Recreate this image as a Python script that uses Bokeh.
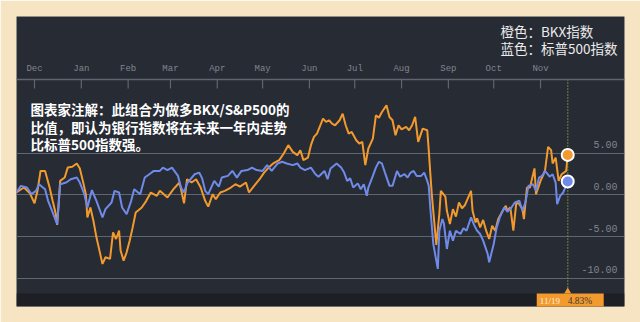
import pandas as pd
from bokeh.plotting import figure
from bokeh.models import Range1d, Grid, FixedTicker, Span, BoxAnnotation
from bokeh.embed import file_html
from bokeh.resources import INLINE
from bokeh.core.properties import value

# ---------------- data ----------------
month_dates = ["2014-12-01", "2015-01-01", "2015-02-01", "2015-03-01", "2015-04-01", "2015-05-01",
               "2015-06-01", "2015-07-01", "2015-08-01", "2015-09-01", "2015-10-01", "2015-11-01"]
month_labels = ["Dec", "Jan", "Feb", "Mar", "Apr", "May", "Jun", "Jul", "Aug", "Sep", "Oct", "Nov"]

y_ticks = [5, 0, -5, -10]
y_tick_labels = ["5.00", "0.00", "-5.00", "-10.00"]

bkx_dates = [
    "2014-11-19", "2014-11-24", "2014-11-28", "2014-12-01", "2014-12-03", "2014-12-05", "2014-12-08",
    "2014-12-11", "2014-12-13", "2014-12-15", "2014-12-16", "2014-12-18", "2014-12-21", "2014-12-23",
    "2014-12-26", "2014-12-29", "2014-12-31", "2015-01-02", "2015-01-04", "2015-01-05", "2015-01-07",
    "2015-01-09", "2015-01-11", "2015-01-13", "2015-01-15", "2015-01-17", "2015-01-20", "2015-01-22",
    "2015-01-24", "2015-01-26", "2015-01-27", "2015-01-29", "2015-01-31", "2015-02-02", "2015-02-04",
    "2015-02-06", "2015-02-10", "2015-02-13", "2015-02-16", "2015-02-20", "2015-02-22", "2015-02-27",
    "2015-03-03", "2015-03-07", "2015-03-10", "2015-03-12", "2015-03-15", "2015-03-18", "2015-03-21",
    "2015-03-24", "2015-03-26", "2015-03-29", "2015-03-31", "2015-04-03", "2015-04-06", "2015-04-10",
    "2015-04-13", "2015-04-16", "2015-04-20", "2015-04-22", "2015-04-25", "2015-04-29", "2015-05-02",
    "2015-05-05", "2015-05-08", "2015-05-12", "2015-05-15", "2015-05-18", "2015-05-21", "2015-05-24",
    "2015-05-26", "2015-05-28", "2015-05-31", "2015-06-02", "2015-06-04", "2015-06-06", "2015-06-10",
    "2015-06-12", "2015-06-14", "2015-06-16", "2015-06-18", "2015-06-21", "2015-06-23", "2015-06-25",
    "2015-06-27", "2015-06-29", "2015-07-02", "2015-07-04", "2015-07-06", "2015-07-08", "2015-07-10",
    "2015-07-13", "2015-07-15", "2015-07-17", "2015-07-19", "2015-07-22", "2015-07-24", "2015-07-26",
    "2015-07-28", "2015-07-30", "2015-08-01", "2015-08-04", "2015-08-06", "2015-08-08", "2015-08-10",
    "2015-08-12", "2015-08-15", "2015-08-18", "2015-08-19", "2015-08-20", "2015-08-21", "2015-08-24",
    "2015-08-26", "2015-08-27", "2015-08-30", "2015-08-31", "2015-09-02", "2015-09-04", "2015-09-06",
    "2015-09-08", "2015-09-10", "2015-09-12", "2015-09-16", "2015-09-17", "2015-09-19", "2015-09-20",
    "2015-09-22", "2015-09-24", "2015-09-26", "2015-09-28", "2015-09-30", "2015-10-02", "2015-10-04",
    "2015-10-07", "2015-10-09", "2015-10-10", "2015-10-12", "2015-10-14", "2015-10-16", "2015-10-18",
    "2015-10-20", "2015-10-21", "2015-10-23", "2015-10-25", "2015-10-28", "2015-10-29", "2015-11-01",
    "2015-11-03", "2015-11-04", "2015-11-06", "2015-11-08", "2015-11-09", "2015-11-11", "2015-11-13",
    "2015-11-15", "2015-11-18", "2015-11-19"]
bkx_values = [
    0.3, 0.9, 0.2, -1.0, 0.5, 2.9, 2.9,
    0.9, -0.7, -2.2, -3.6, 1.7, 2.1, 3.3,
    3.4, 3.8, 3.2, 1.7, 0.1, -2.7, -1.5,
    -3.1, -5.1, -6.7, -8.3, -7.5, -7.7, -4.5,
    -5.3, -4.3, -6.7, -7.9, -6.9, -5.5, -3.9,
    -2.1, -1.5, -0.7, 0.3, -0.1, 0.5, -0.3,
    0.7, 1.5, -1.0, 1.9, 1.5, 1.9, 0.9,
    -0.7, -1.4, 0.1, -0.5, 0.3, 0.5, 0.9,
    1.3, 1.0, 1.5, 0.3, 1.0, 1.9, 2.7,
    3.3, 3.8, 4.2, 5.0, 6.0, 5.2, 4.8,
    5.4, 4.2, 4.5, 6.0, 7.0, 7.4, 9.2,
    8.8, 9.0, 8.6, 8.4, 9.0, 9.8, 8.4,
    7.4, 7.6, 6.6, 6.2, 6.4, 3.6, 5.6,
    6.8, 9.6, 9.3, 10.0, 10.8, 9.4, 9.0,
    7.2, 8.4, 7.9, 8.2, 7.8, 8.4, 9.4,
    6.4, 8.0, 7.8, 5.4, 2.7, 0.1, -6.0,
    -2.3, 0.5, -0.2, -1.9, -3.5, -1.7, -2.6,
    -0.9, -1.6, -1.2, 0.5, -1.9, -3.3, -2.8,
    -3.9, -3.0, -4.3, -5.3, -3.7, -4.3, -2.9,
    -1.9, -1.3, -1.9, -1.5, -4.3, -0.9, -1.1,
    -1.7, -2.9, 0.9, 0.9, 3.2, 0.1, 1.7,
    2.5, 3.0, 5.8, 5.4, 3.8, 4.5, 1.7,
    2.5, 2.9, 4.83]

spx_dates = [
    "2014-11-19", "2014-11-22", "2014-11-26", "2014-11-29", "2014-12-02", "2014-12-04", "2014-12-08",
    "2014-12-10", "2014-12-13", "2014-12-16", "2014-12-18", "2014-12-22", "2014-12-25", "2014-12-29",
    "2014-12-31", "2015-01-03", "2015-01-05", "2015-01-08", "2015-01-11", "2015-01-13", "2015-01-15",
    "2015-01-17", "2015-01-21", "2015-01-23", "2015-01-26", "2015-01-28", "2015-01-31", "2015-02-03",
    "2015-02-05", "2015-02-09", "2015-02-12", "2015-02-15", "2015-02-18", "2015-02-22", "2015-02-24",
    "2015-02-27", "2015-03-02", "2015-03-06", "2015-03-08", "2015-03-10", "2015-03-12", "2015-03-17",
    "2015-03-20", "2015-03-22", "2015-03-24", "2015-03-26", "2015-03-30", "2015-04-02", "2015-04-04",
    "2015-04-08", "2015-04-11", "2015-04-14", "2015-04-17", "2015-04-21", "2015-04-24", "2015-04-27",
    "2015-05-01", "2015-05-04", "2015-05-07", "2015-05-11", "2015-05-14", "2015-05-17", "2015-05-21",
    "2015-05-24", "2015-05-26", "2015-05-29", "2015-06-02", "2015-06-05", "2015-06-07", "2015-06-11",
    "2015-06-13", "2015-06-15", "2015-06-17", "2015-06-19", "2015-06-22", "2015-06-24", "2015-06-26",
    "2015-06-28", "2015-06-30", "2015-07-03", "2015-07-05", "2015-07-07", "2015-07-09", "2015-07-10",
    "2015-07-13", "2015-07-15", "2015-07-17", "2015-07-19", "2015-07-21", "2015-07-24", "2015-07-26",
    "2015-07-29", "2015-07-31", "2015-08-03", "2015-08-05", "2015-08-07", "2015-08-09", "2015-08-11",
    "2015-08-14", "2015-08-16", "2015-08-18", "2015-08-19", "2015-08-20", "2015-08-22", "2015-08-25",
    "2015-08-26", "2015-08-28", "2015-08-29", "2015-08-31", "2015-09-02", "2015-09-04", "2015-09-06",
    "2015-09-09", "2015-09-11", "2015-09-13", "2015-09-16", "2015-09-18", "2015-09-20", "2015-09-22",
    "2015-09-24", "2015-09-27", "2015-09-28", "2015-10-01", "2015-10-03", "2015-10-05", "2015-10-08",
    "2015-10-10", "2015-10-12", "2015-10-15", "2015-10-18", "2015-10-20", "2015-10-22", "2015-10-24",
    "2015-10-27", "2015-10-29", "2015-10-31", "2015-11-02", "2015-11-04", "2015-11-07", "2015-11-09",
    "2015-11-11", "2015-11-12", "2015-11-14", "2015-11-16", "2015-11-19"]
spx_values = [
    0.3, 1.1, 0.9, 0.1, 0.5, 1.3, 0.7,
    -0.7, -2.1, -3.5, 1.3, 1.5, 1.9, 2.1,
    1.5, 0.1, -1.5, 0.6, -0.7, -1.7, -2.7,
    -1.7, -0.9, 0.5, 0.3, -1.5, -2.3, -0.7,
    0.7, 0.1, 2.1, 2.5, 2.9, 2.9, 3.3,
    3.0, 3.3, 2.3, 0.9, 0.3, 1.4, 2.5,
    2.7, 2.0, 0.5, 0.1, 1.7, 1.0, 2.1,
    2.3, 2.9, 2.1, 2.9, 3.0, 3.3, 3.0,
    2.9, 3.6, 2.9, 3.8, 4.0, 3.8, 3.6,
    3.8, 3.3, 3.0, 3.3, 2.5, 2.2, 2.9,
    1.9, 3.2, 3.5, 3.8, 3.3, 2.7, 1.7,
    2.0, 0.9, 1.4, 0.7, 1.3, -0.1, 0.9,
    2.3, 3.3, 4.0, 3.8, 2.7, 1.1, 1.1,
    2.9, 2.2, 2.5, 2.1, 2.7, 2.9, 2.3,
    2.3, 2.7, 1.7, 1.1, -1.5, -5.9, -8.9,
    -4.3, -2.9, -3.4, -6.5, -4.3, -5.5, -4.3,
    -4.7, -4.0, -4.3, -2.7, -3.6, -4.3, -4.7,
    -5.5, -7.1, -8.1, -5.9, -3.9, -2.7, -1.5,
    -2.0, -1.7, -0.9, -0.7, -1.9, -0.9, 1.1,
    1.3, 0.5, 2.1, 2.3, 2.9, 2.2, 2.5,
    1.5, -1.1, -0.1, 0.3, 1.63]

end_date_label = "11/19"
end_value_label = "4.83%"
legend_lines = ["橙色：BKX指数", "蓝色：标普500指数"]
note_lines = ["图表家注解：此组合为做多BKX/S&P500的",
              "比值，即认为银行指数将在未来一年内走势",
              "比标普500指数强。"]

# ---------------- layout helpers ----------------
ORANGE = "#f29a2e"
BLUE = "#6f8ae8"
PANEL = "#272b34"
GRIDC = "#5f6571"
LABELC = "#80858f"

FL, FT, FW, FH = 16, 16, 608, 290


def ms(s):
    return pd.Timestamp(s).value / 1e6


X0 = ms("2014-11-19 02:00")
X1 = ms("2015-12-26 14:00")
Y0, Y1 = -13.43, 21.5


def xpx(px):
    return X0 + (px - FL) * (X1 - X0) / FW


def ypx(py):
    return Y1 - (py - FT) * (Y1 - Y0) / FH


MS_PER_PX = (X1 - X0) / FW

p = figure(frame_width=FW, frame_height=FH, min_border=16,
           min_border_left=16, min_border_right=16, min_border_top=16, min_border_bottom=16,
           x_axis_location=None, y_axis_location=None,
           x_range=Range1d(X0, X1), y_range=Range1d(Y0, Y1),
           output_backend="svg", toolbar_location=None)
p.background_fill_color = PANEL
p.border_fill_color = "#f6e4c2"
p.outline_line_color = None
p.grid.visible = False

p.add_layout(Grid(dimension=1, ticker=FixedTicker(ticks=y_ticks),
                  grid_line_color=GRIDC, grid_line_width=1.2))

# bottom dark strip
p.add_layout(BoxAnnotation(top=ypx(293), fill_color="#1d1f24", fill_alpha=1.0,
                           line_color=None, level="underlay"))

# time axis inside panel
month_ms = [ms(d) for d in month_dates]
p.add_layout(Span(location=ypx(79), dimension="width", line_color=GRIDC, line_width=1.5))
p.segment(x0=month_ms, y0=[ypx(79)] * len(month_ms), x1=month_ms, y1=[ypx(88)] * len(month_ms),
          line_color=GRIDC, line_width=1.2)
p.text(x=month_ms, y=[ypx(68)] * len(month_ms), text=month_labels,
       text_align="center", text_baseline="middle",
       text_font=value("Liberation Mono"), text_font_size="9px", text_color=LABELC)

# y labels at right, above gridlines
p.text(x=[X1] * len(y_ticks), y=y_ticks, text=y_tick_labels,
       text_align="right", text_baseline="bottom", x_offset=-7, y_offset=-5,
       text_font=value("Liberation Mono"), text_font_size="10px", text_color=LABELC)

# series
bkx_x = pd.to_datetime(bkx_dates)
spx_x = pd.to_datetime(spx_dates)
p.line(bkx_x, bkx_values, line_color=ORANGE, line_width=2)
p.line(spx_x, spx_values, line_color=BLUE, line_width=2)

end_ms = ms(bkx_dates[-1])
# dotted crosshair
p.segment(x0=[end_ms], y0=[ypx(79)], x1=[end_ms], y1=[ypx(291)],
          line_color="#8d9b3e", line_width=1.5, line_dash="1 2")

p.scatter([end_ms], [bkx_values[-1]], size=12, fill_color=ORANGE, line_color="white", line_width=2)
p.scatter([end_ms], [spx_values[-1]], size=12, fill_color=BLUE, line_color="white", line_width=2)

# tooltip box at bottom
p.rect(x=[end_ms + 2.5 * MS_PER_PX], y=[ypx(300)], width=67, height=14,
       width_units="screen", height_units="screen", fill_color=ORANGE, line_color=None)
p.scatter([end_ms], [ypx(291)], marker="triangle", size=7, fill_color=ORANGE, line_color=None)
p.text(x=[end_ms], y=[ypx(300)], text=[end_date_label], x_offset=-28,
       text_align="left", text_baseline="middle",
       text_font=value("Liberation Serif"), text_font_size="9px", text_color="#fff3df")
p.text(x=[end_ms], y=[ypx(300)], text=[end_value_label], x_offset=0,
       text_align="left", text_baseline="middle",
       text_font=value("Liberation Serif"), text_font_size="9.5px", text_color="#3a3a3a")

# legend text top right
p.text(x=[xpx(500)] * 2, y=[ypx(30), ypx(47)], text=legend_lines,
       text_align="left", text_baseline="middle",
       text_font=value("Noto Sans CJK SC"), text_font_size="13.5px", text_color="#ececec")

# annotation text
p.text(x=[xpx(30)] * 3, y=[ypx(108), ypx(126), ypx(143)], text=note_lines,
       text_align="left", text_baseline="middle", text_font_style="bold",
       text_font=value("Noto Sans CJK SC"), text_font_size="13.5px", text_color="#ffffff")

open("out.html", "w").write(file_html(p, INLINE))
